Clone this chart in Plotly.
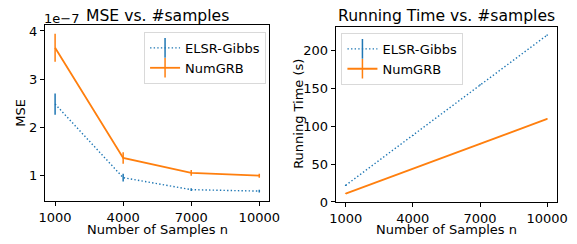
import plotly.graph_objects as go

W, H = 577, 244
samples = [1000, 4000, 7000, 10000]
mse_elsr = [2.48, 0.95, 0.70, 0.67]
mse_elsr_err = [0.22, 0.08, 0.03, 0.03]
mse_num = [3.65, 1.36, 1.05, 0.99]
mse_num_err = [0.29, 0.12, 0.06, 0.04]
time_elsr = [22, 88, 155, 221]
time_elsr_err = [0.8, 0.8, 0.8, 0.8]
time_num = [11, 44, 77, 110]
time_num_err = [0.5, 0.5, 0.5, 0.5]

BLUE = "#1f77b4"
ORANGE = "#ff7f0e"
FONT = "DejaVu Sans"
DOT = "1.4px,2.2px"

def px(x):
    return x / W

def py(y):
    return 1 - y / H

fig = go.Figure()

def add_series(xa, ya, x, y, err, color, dash, width, name, legend):
    fig.add_trace(go.Scatter(
        x=x, y=y, mode="lines", xaxis=xa, yaxis=ya,
        line=dict(color=color, dash=dash, width=width),
        error_y=dict(type="data", array=err, color=color, thickness=1.5, width=0),
        showlegend=False, hoverinfo="skip"))
    fig.add_trace(go.Scatter(
        x=[None], y=[None], mode="lines+markers", xaxis=xa, yaxis=ya,
        name=name, legend=legend,
        line=dict(color=color, dash=dash, width=width),
        marker=dict(symbol="line-ns", size=14, color=color, line=dict(width=1.5, color=color)),
        showlegend=True))

add_series("x", "y", samples, mse_elsr, mse_elsr_err, BLUE, DOT, 1.4, "ELSR-Gibbs", "legend")
add_series("x", "y", samples, mse_num, mse_num_err, ORANGE, "solid", 1.8, "NumGRB", "legend")
add_series("x2", "y2", samples, time_elsr, time_elsr_err, BLUE, DOT, 1.4, "ELSR-Gibbs", "legend2")
add_series("x2", "y2", samples, time_num, time_num_err, ORANGE, "solid", 1.8, "NumGRB", "legend2")

axis_common = dict(
    showgrid=False, zeroline=False, showline=True, linecolor="black", linewidth=1,
    mirror=True, ticks="outside", ticklen=4, tickwidth=1, tickcolor="black",
    tickfont=dict(family=FONT, size=13, color="black"),
)

fig.update_layout(
    width=W, height=H, margin=dict(l=0, r=0, t=0, b=0),
    paper_bgcolor="white", plot_bgcolor="white",
    font=dict(family=FONT, size=13, color="black"),
    xaxis=dict(domain=[px(40), px(271)], range=[550, 10450], tickvals=samples,
               ticktext=[str(s) for s in samples], anchor="y", **axis_common),
    yaxis=dict(domain=[py(207), py(25)], range=[0.46, 4.12], tickvals=[1, 2, 3, 4],
               anchor="x", **axis_common),
    xaxis2=dict(domain=[px(339), px(567)], range=[550, 10450], tickvals=samples,
                ticktext=[str(s) for s in samples], anchor="y2", **axis_common),
    yaxis2=dict(domain=[py(208), py(27)], range=[-0.3, 231.5], tickvals=[0, 50, 100, 150, 200],
                anchor="x2", **axis_common),
    legend=dict(x=px(142), y=py(32), xanchor="left", yanchor="top",
                bgcolor="white", bordercolor="#d9d9d9", borderwidth=1,
                font=dict(family=FONT, size=13, color="black"),
                itemwidth=30, tracegroupgap=0),
    legend2=dict(x=px(345), y=py(33), xanchor="left", yanchor="top",
                 bgcolor="white", bordercolor="#d9d9d9", borderwidth=1,
                 font=dict(family=FONT, size=13, color="black"),
                 itemwidth=30, tracegroupgap=0),
)

annos = [
    dict(text="MSE vs. #samples", x=px(155.5), y=py(15), size=15.6),
    dict(text="Running Time vs. #samples", x=px(453), y=py(16), size=15.6),
    dict(text="1e\u22127", x=px(57), y=py(18), size=13),
    dict(text="MSE", x=px(15), y=py(116), size=13, angle=-90),
    dict(text="Running Time (s)", x=px(300), y=py(117), size=13, angle=-90),
    dict(text="Number of Samples n", x=px(155.5), y=py(236), size=13),
    dict(text="Number of Samples n", x=px(453), y=py(236), size=13),
]
for a in annos:
    fig.add_annotation(text=a["text"], x=a["x"], y=a["y"], xref="paper", yref="paper",
                       xanchor="center", yanchor="middle", showarrow=False,
                       textangle=a.get("angle", 0),
                       font=dict(family=FONT, size=a["size"], color="black"))

fig.write_html("out.html", config={"displayModeBar": False},
               post_script="document.body.style.margin='0px';document.body.style.padding='0px';")
